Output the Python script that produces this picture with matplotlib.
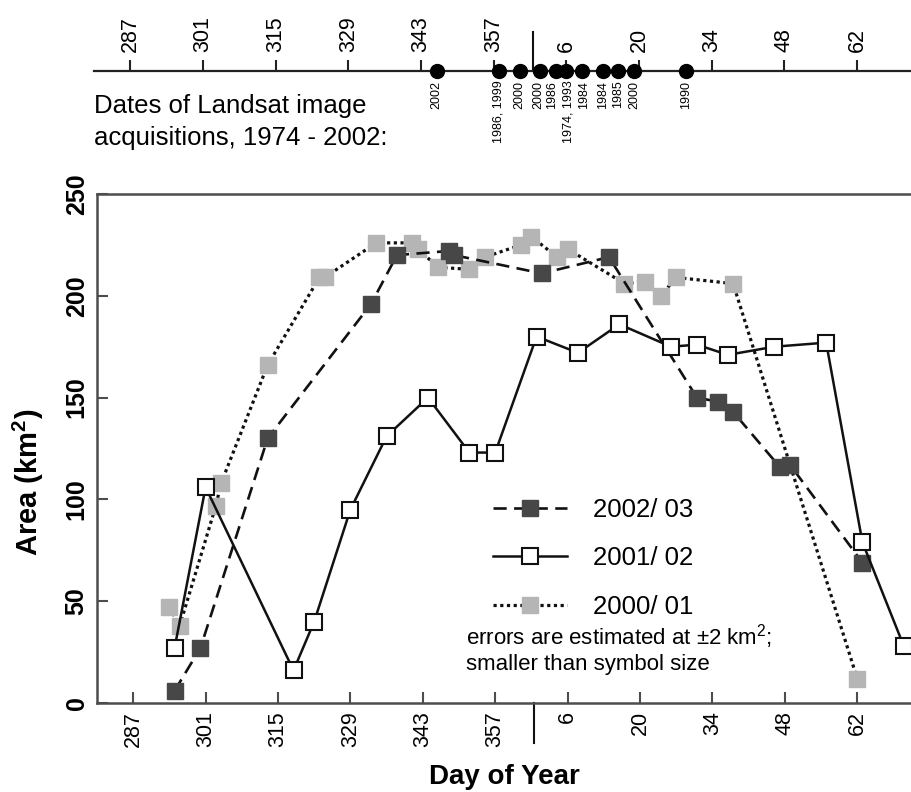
import numpy as np
import matplotlib
matplotlib.use('Agg')
import matplotlib.pyplot as plt

plt.rcParams['font.family'] = ['Liberation Sans', 'DejaVu Sans']
plt.rcParams['mathtext.fontset'] = 'custom'
plt.rcParams['mathtext.rm'] = 'Liberation Sans'
plt.rcParams['mathtext.bf'] = 'Liberation Sans:bold'

# day of year, counted on past 365 for Jan-Mar of the following year
days_0203 = [295, 300, 313, 333, 338, 348, 349, 366, 379, 396, 400, 403, 412, 414, 428]
area_0203 = [6, 27, 130, 196, 220, 222, 220, 211, 219, 150, 148, 143, 116, 117, 69]

days_0102 = [295, 301, 318, 322, 329, 336, 344, 352, 357, 365, 373, 381, 391, 396, 402, 411, 421, 428, 436]
area_0102 = [27, 106, 16, 40, 95, 131, 150, 123, 123, 180, 172, 186, 175, 176, 171, 175, 177, 79, 28]

days_0001 = [294, 296, 303, 304, 313, 323, 324, 334, 341, 342, 346, 352, 355, 362, 364, 369, 371,
             382, 386, 389, 392, 403, 427]
area_0001 = [47, 38, 97, 108, 166, 209, 209, 226, 226, 223, 214, 213, 219, 225, 229, 219, 223,
             206, 207, 200, 209, 206, 12]

# Landsat acquisition dates
landsat_days = [346, 358, 362, 366, 369, 371, 374, 378, 381, 384, 394]
landsat_years = ['2002', '1986, 1999', '2000', '2000', '1986', '1974, 1993', '1984', '1984',
                 '1985', '2000', '1990']
# small sideways nudges (points) so the crowded labels don't collide
label_nudge = [0, 0, 0, -1.5, -2.5, 1.5, 1.5, 0, 0, 0, 0]

tick_days = [287, 301, 315, 329, 343, 357, 371, 385, 399, 413, 427]
tick_labels = [str(d if d <= 365 else d - 365) for d in tick_days]
year_break = 364.5

spine_col = '#4d4d4d'

fig = plt.figure(figsize=(9.11, 7.92), dpi=100)
ax = fig.add_axes([97 / 911, 1 - 703 / 792, 1 - 97 / 911, 509 / 792])

ax.plot(days_0001, area_0001, linestyle=(0, (1, 1.1)), color='#111111', lw=2.3,
        marker='s', ms=12, mfc='#b5b5b5', mec='#b5b5b5', label='2000/ 01', clip_on=False)
ax.plot(days_0203, area_0203, linestyle=(0, (5, 2.8)), color='#111111', lw=1.9,
        marker='s', ms=12, mfc='#474747', mec='#474747', label='2002/ 03', clip_on=False)
ax.plot(days_0102, area_0102, linestyle='-', color='#111111', lw=1.8,
        marker='s', ms=12, mfc='white', mec='#111111', mew=1.5, label='2001/ 02', clip_on=False)

ax.set_xlim(280, 437.4)
ax.set_ylim(0, 250)
ax.set_xticks(tick_days)
ax.set_xticklabels(tick_labels, rotation=90, fontsize=15.5)
ax.set_yticks([0, 50, 100, 150, 200, 250])
ax.set_yticklabels(['0', '50', '100', '150', '200', '250'], rotation=90, va='center',
                   fontsize=18, fontweight='bold')
ax.tick_params(direction='in', length=8, width=1.5, color=spine_col, pad=6)
for s in ['left', 'bottom', 'top']:
    ax.spines[s].set_linewidth(1.8)
    ax.spines[s].set_color(spine_col)
ax.spines['right'].set_visible(False)

ax.axvline(year_break, ymin=-40 / 509, ymax=0, color='#111111', lw=1.5, clip_on=False)

ax.set_xlabel('Day of Year', fontsize=20, fontweight='bold', labelpad=12)
ax.set_ylabel(r'Area (km$^{\mathbf{2}}$)', fontsize=21, fontweight='bold')
ax.yaxis.set_label_coords(-0.063, 0.434)

handles, labels = ax.get_legend_handles_labels()
order = [1, 2, 0]
ax.legend([handles[i] for i in order], [labels[i] for i in order], loc='upper left',
          bbox_to_anchor=(0.486, 0.403), frameon=False, fontsize=18.5, handlelength=2.9,
          handletextpad=1.0, labelspacing=0.95, borderpad=0, borderaxespad=0)

ax.text(0.453, 0.107, 'errors are estimated at $\\pm$2 km$^2$;\nsmaller than symbol size',
        transform=ax.transAxes, fontsize=16, va='center', ha='left', linespacing=1.2)

# top strip with acquisition dates
ax_t = fig.add_axes([94 / 911, 1 - 171 / 792, 1 - 94 / 911, 100 / 792])
ax_t.set_xlim(ax.get_xlim())
ax_t.set_ylim(0, 1)
for s in ['left', 'right', 'bottom']:
    ax_t.spines[s].set_visible(False)
ax_t.spines['top'].set_linewidth(1.6)
ax_t.spines['top'].set_color('#222222')
ax_t.xaxis.tick_top()
ax_t.set_xticks(tick_days)
ax_t.set_xticklabels(tick_labels, rotation=90, fontsize=15.5)
ax_t.tick_params(axis='x', direction='out', length=8, width=1.5, color='#222222', pad=6)
ax_t.set_yticks([])
ax_t.patch.set_visible(False)

ax_t.plot(landsat_days, [1] * len(landsat_days), 'o', color='black', ms=10, clip_on=False, zorder=5)
for d, lab, dx in zip(landsat_days, landsat_years, label_nudge):
    ax_t.annotate(lab, (d, 1), xytext=(dx, -7), textcoords='offset points', rotation=90,
                  ha='center', va='top', fontsize=9)
ax_t.axvline(year_break, ymin=1, ymax=1.39, color='#111111', lw=1.5, clip_on=False)

ax_t.text(0.0, 0.49, 'Dates of Landsat image\nacquisitions, 1974 - 2002:', transform=ax_t.transAxes,
          fontsize=18.5, ha='left', va='center', linespacing=1.45)

fig.savefig('out.png', dpi=100)
